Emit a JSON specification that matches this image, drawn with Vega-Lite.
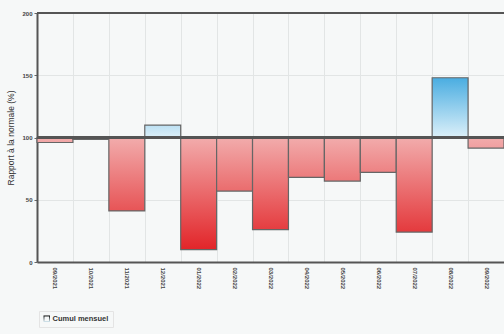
{
  "$schema": "https://vega.github.io/schema/vega-lite/v6.json",
  "autosize": {"type": "none"},
  "padding": {"left": 37, "top": 13, "right": 0, "bottom": 72},
  "width": 467,
  "height": 249,
  "background": "#f6f8f8",
  "config": {"view": {"stroke": null}, "font": "Liberation Sans"},
  "data": {"values": [
    {"month": "09/2021", "value": 96},
    {"month": "10/2021", "value": 98.5},
    {"month": "11/2021", "value": 41},
    {"month": "12/2021", "value": 110},
    {"month": "01/2022", "value": 10},
    {"month": "02/2022", "value": 57},
    {"month": "03/2022", "value": 26},
    {"month": "04/2022", "value": 68},
    {"month": "05/2022", "value": 65},
    {"month": "06/2022", "value": 72},
    {"month": "07/2022", "value": 24},
    {"month": "08/2022", "value": 148},
    {"month": "09/2022", "value": 91.5}
  ]},
  "layer": [
    {
      "mark": {
        "type": "bar",
        "strokeWidth": 1.2,
        "fill": {"expr": "datum.value < 100 ? {gradient:'linear',x1:0,y1:0,x2:0,y2:1,stops:[{offset:0,color:'rgb(242,172,172)'},{offset:1,color:'rgb('+round(242-18*(100-datum.value)/100)+','+round(172-150*(100-datum.value)/100)+','+round(172-146*(100-datum.value)/100)+')'}]} : {gradient:'linear',x1:0,y1:0,x2:0,y2:1,stops:[{offset:0,color:'rgb('+round(218-150*(datum.value-100)/50)+','+round(238-68*(datum.value-100)/50)+','+round(248-24*(datum.value-100)/50)+')'},{offset:1,color:'rgb(220,240,249)'}]}"}
      },
      "encoding": {
        "x": {
          "field": "month", "type": "ordinal", "sort": null,
          "scale": {"paddingInner": 0, "paddingOuter": 0},
          "axis": {
            "title": null, "labelAngle": 90, "labelFontSize": 6, "labelFontWeight": "bold", "labelColor": "#444",
            "labelPadding": 5, "ticks": false, "domainColor": "#555", "domainWidth": 2,
            "grid": true, "tickBand": "extent", "gridColor": "#e2e5e5", "gridWidth": 1
          }
        },
        "y": {
          "field": "value", "type": "quantitative",
          "scale": {"domain": [0, 200], "nice": false},
          "axis": {
            "values": [0, 50, 100, 150, 200], "title": "Rapport à la normale (%)",
            "titleFontSize": 8.5, "titleFontWeight": "normal", "titleColor": "#333", "titlePadding": 6,
            "labelFontSize": 6, "labelFontWeight": "bold", "labelColor": "#444", "tickSize": 3, "tickColor": "#666",
            "domainColor": "#555", "domainWidth": 2, "gridColor": "#e2e5e5", "labelPadding": 2
          }
        },
        "y2": {"datum": 100},
        "stroke": {
          "datum": "Cumul mensuel",
          "scale": {"range": ["#666"]},
          "legend": {
            "title": null, "orient": "none", "legendX": 2, "legendY": 298,
            "symbolType": "M-1,-1H1V1H-1Z M-0.7,-0.7V0.7H0.7V-0.7Z", "symbolSize": 42, "symbolStrokeWidth": 0,
            "labelFontSize": 7.5, "labelFontWeight": "bold", "labelColor": "#333", "labelOffset": 2,
            "strokeColor": "#e4e4e4", "padding": 4
          }
        }
      }
    },
    {
      "mark": {"type": "rule", "color": "#555", "strokeWidth": 2},
      "encoding": {"y": {"datum": 100}}
    },
    {
      "mark": {"type": "rule", "color": "#555", "strokeWidth": 2},
      "encoding": {"y": {"datum": 200}}
    }
  ]
}
